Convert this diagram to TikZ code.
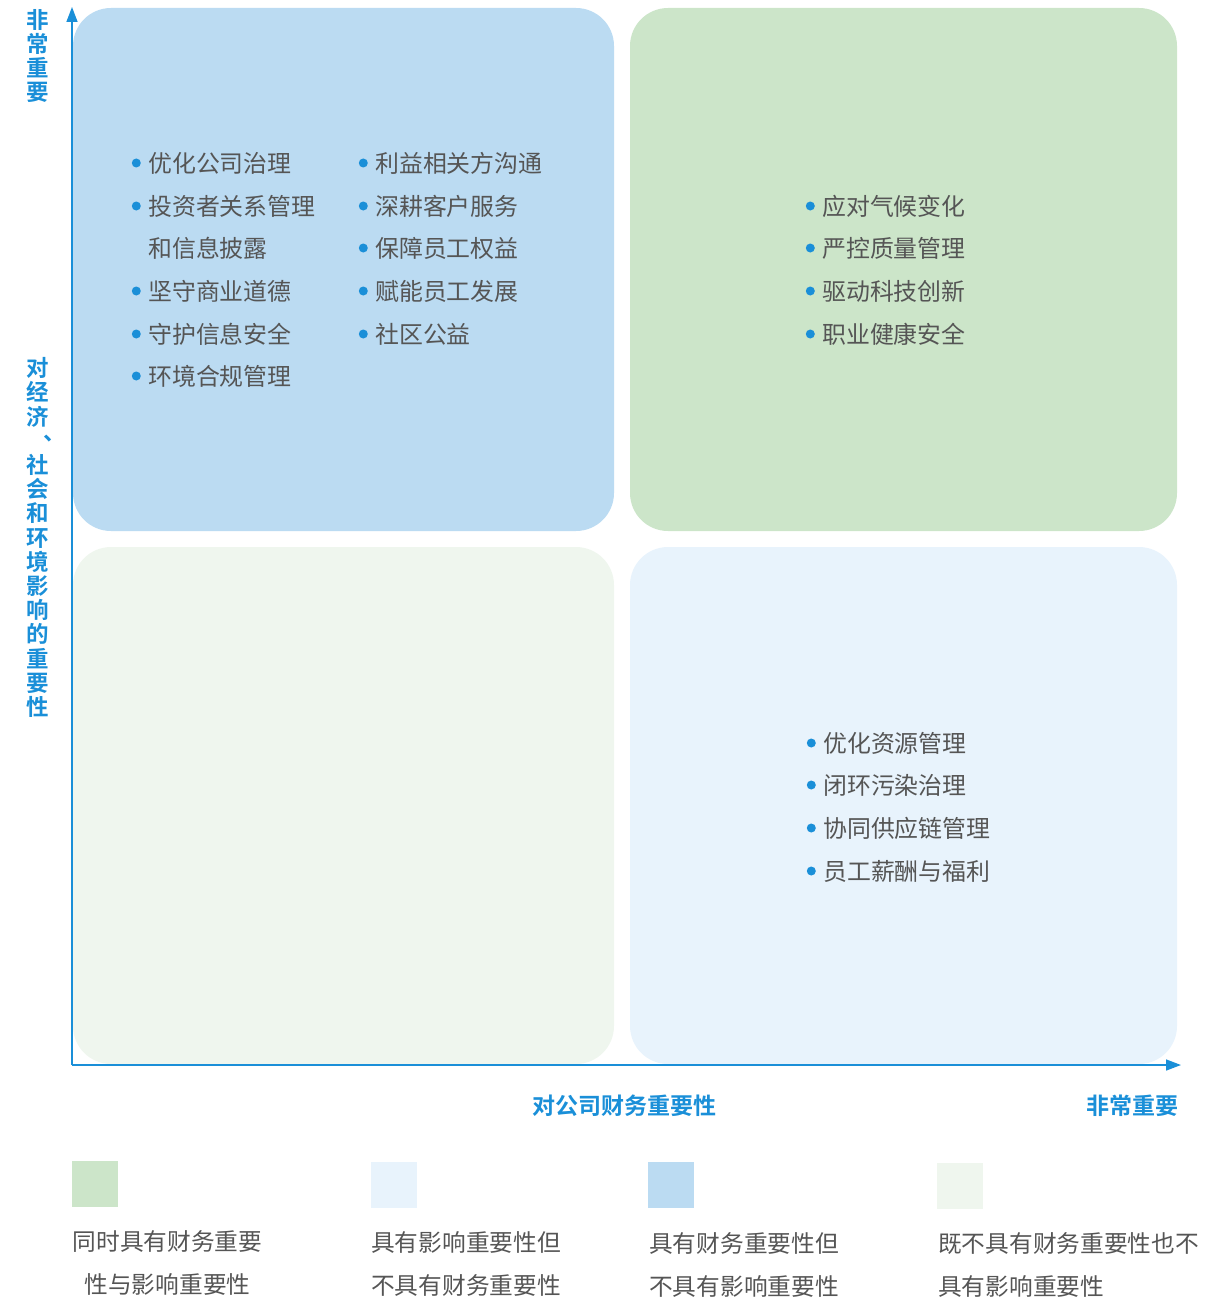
\documentclass[tikz,border=0pt]{standalone}
\usepackage{fontspec}
\newfontfamily\cjk{Noto Sans CJK SC}[BoldFont={Noto Sans CJK SC Bold}]
\usetikzlibrary{arrows.meta}
\definecolor{qblue}{HTML}{BBDBF2}
\definecolor{qgreen}{HTML}{CCE5C9}
\definecolor{qlgreen}{HTML}{EFF6EE}
\definecolor{qlblue}{HTML}{E8F3FC}
\definecolor{axisblue}{HTML}{1A8FD8}
\definecolor{txtgray}{HTML}{555555}
\begin{document}
\begin{tikzpicture}[x=1pt,y=-1pt,
  quad/.style={rounded corners=38pt, inner sep=0pt, minimum width=541pt, minimum height=523pt, draw=none},
  bul/.style={circle, fill=axisblue, minimum size=9pt, inner sep=0pt},
  itemtxt/.style={anchor=west, inner sep=0pt, font=\cjk\fontsize{23.9}{28}\selectfont, text=txtgray},
  blt/.style={itemtxt, label={[bul, label distance=7pt]left:{}}},
  vlab/.style={align=center, inner sep=0pt, font=\cjk\bfseries\fontsize{22.5}{24.2}\selectfont, text=axisblue},
  hlab/.style={inner sep=0pt, font=\cjk\bfseries\fontsize{23}{28}\selectfont, text=axisblue},
  legbox/.style={minimum size=46pt, inner sep=0pt, draw=none},
  legtxt/.style={inner sep=0pt, font=\cjk\fontsize{23.7}{43}\selectfont, text=txtgray},
  axis/.style={draw=axisblue, line width=1.5pt, -{Triangle[length=15pt,width=11pt]}}
]
\useasboundingbox (0,0) rectangle (1229,1300);
% quadrants
\node[quad, fill=qblue]   (q1) at (343.5,269.5) {};
\node[quad, fill=qgreen, minimum width=547pt]  (q2) at (903.5,269.5) {};
\node[quad, fill=qlgreen, minimum height=517pt] (q3) at (343.5,805.5) {};
\node[quad, fill=qlblue, minimum width=547pt, minimum height=517pt]  (q4) at (903.5,805.5) {};
% axes
\coordinate (origin) at (72,1065);
\coordinate (ytop) at (72,7);
\coordinate (xend) at (1181,1065);
\draw[axis] (origin) -- (ytop);
\draw[axis] (origin) -- (xend);
% axis labels
\node[vlab] (yhigh) at (38,56) {非\\常\\重\\要};
\node[vlab] (ylab) at (38,537.5) {对\\经\\济\\\makebox[22.5pt][l]{\hspace{17pt}\raisebox{9pt}[0pt][0pt]{、}}\\社\\会\\和\\环\\境\\影\\响\\的\\重\\要\\性};
\node[hlab] (xlab) at (624.5,1106) {对公司财务重要性};
\node[hlab] (xhigh) at (1132.5,1106) {非常重要};
% top-left items
\node[blt] (a1) at (148,163) {优化公司治理};
\node[blt] (a2) at (148,206) {投资者关系管理};
\node[itemtxt] (a2b) at (148,248) {和信息披露};
\node[blt] (a3) at (148,291) {坚守商业道德};
\node[blt] (a4) at (148,334) {守护信息安全};
\node[blt] (a5) at (148,376) {环境合规管理};
\node[blt] (b1) at (375,163) {利益相关方沟通};
\node[blt] (b2) at (375,206) {深耕客户服务};
\node[blt] (b3) at (375,248) {保障员工权益};
\node[blt] (b4) at (375,291) {赋能员工发展};
\node[blt] (b5) at (375,334) {社区公益};
% top-right items
\node[blt] (c1) at (822,206) {应对气候变化};
\node[blt] (c2) at (822,248) {严控质量管理};
\node[blt] (c3) at (822,291) {驱动科技创新};
\node[blt] (c4) at (822,334) {职业健康安全};
% bottom-right items
\node[blt] (d1) at (823,743) {优化资源管理};
\node[blt] (d2) at (823,785) {闭环污染治理};
\node[blt] (d3) at (823,828) {协同供应链管理};
\node[blt] (d4) at (823,871) {员工薪酬与福利};
% legend
\node[legbox, fill=qgreen]  (l1) at (95,1184) {};
\node[legbox, fill=qlblue]  (l2) at (394,1185) {};
\node[legbox, fill=qblue]   (l3) at (671,1185) {};
\node[legbox, fill=qlgreen] (l4) at (960,1186) {};
\node[legtxt, align=center] (t1) at (167.5,1262.5) {同时具有财务重要\\性与影响重要性};
\node[legtxt, align=left, anchor=west] (t2) at (371,1263.5) {具有影响重要性但\\不具有财务重要性};
\node[legtxt, align=left, anchor=west] (t3) at (649,1264.5) {具有财务重要性但\\不具有影响重要性};
\node[legtxt, align=left, anchor=west] (t4) at (938,1264.5) {既不具有财务重要性也不\\具有影响重要性};
\end{tikzpicture}
\end{document}
